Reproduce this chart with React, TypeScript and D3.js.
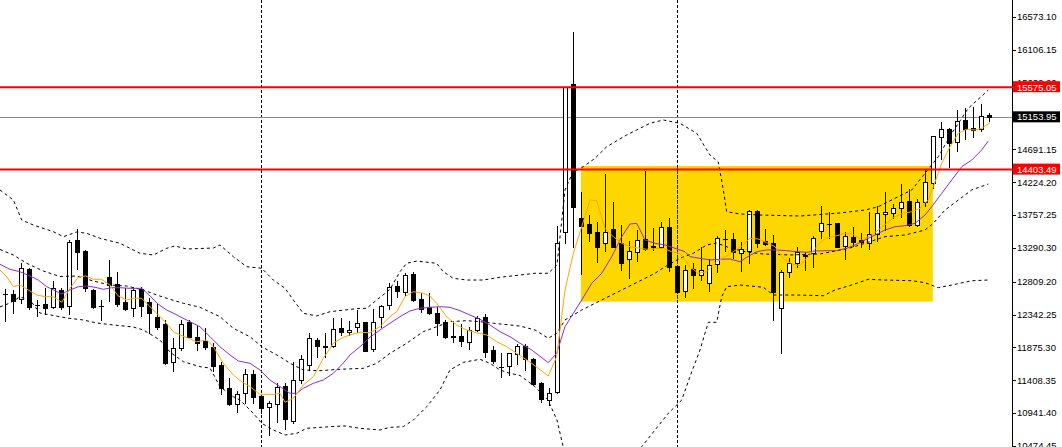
import React from "react";
import * as d3 from "d3";

const W = 1062;
const H = 447;
const AXIS_X = 1012;

// ---- candles (index 0..123) ----
const opens = [
  12640, 12635, 12560, 12991, 12479, 12493, 12455, 12692, 12469, 13403,
  13247, 12692, 12469, 12873, 12773, 12522, 12432, 12702, 12517, 12313,
  12209, 11664, 11872, 12242, 12028, 11972, 11886, 11626, 11295, 11067,
  11224, 11495, 11185, 11025, 11069, 11327, 10834, 11410, 11626, 11981,
  11889, 11900, 12152, 12088, 12170, 12237, 11849, 12313, 12472, 12749,
  12668, 12920, 12560, 12446, 12372, 12233, 12038, 12038, 11957, 12124,
  12304, 11835, 11598, 11612, 11782, 11896, 11709, 11366, 11128, 11238,
  13521, 15621, 13711, 13630, 13517, 13356, 13555, 13356, 13129, 13228,
  13413, 13311, 13308, 13583, 13033, 12682, 12991, 12905, 12796, 13057,
  13414, 13413, 13222, 13247, 13815, 13389, 13356, 12432, 12952, 13072,
  13183, 13214, 13531, 13630, 13647, 13311, 13441, 13403, 13367, 13492,
  13770, 13791, 13854, 13957, 13616, 13939, 14209, 14863, 14977, 14800,
  15109, 14991, 14981, 15180,
];
const highs = [
  12706, 12692, 13080, 13009, 12550, 12721, 12820, 12716, 13403, 13555,
  13261, 12706, 12550, 13119, 12944, 12716, 12739, 12731, 12574, 12503,
  12266, 12006, 12266, 12266, 12180, 12148, 11935, 11673, 11437, 11256,
  11562, 11555, 11200, 11114, 11370, 11374, 11669, 11761, 12081, 12006,
  12081, 12290, 12292, 12252, 12401, 12242, 12418, 12479, 12787, 12813,
  12934, 12948, 12654, 12654, 12455, 12266, 12237, 12209, 12162, 12318,
  12344, 11896, 11797, 11801, 11925, 11925, 11721, 11389, 11295, 13602,
  15582, 16360, 14090, 13758, 13663, 14341, 13947, 13616, 13389, 13552,
  14384, 13569, 13663, 13711, 13048, 13048, 13072, 13308, 13126, 13453,
  13545, 13498, 13370, 13829, 13829, 13555, 13474, 12977, 13143, 13299,
  13237, 13460, 13886, 13805, 13649, 13521, 13583, 13498, 13794, 13891,
  14081, 13915, 14203, 14124, 13986, 14391, 14886, 15085, 14999, 15251,
  15275, 15289, 15336, 15204,
];
const lows = [
  12257, 12369, 12512, 12418, 12327, 12351, 12432, 12418, 12355, 12991,
  12682, 12432, 12266, 12540, 12469, 12408, 12327, 12327, 12077, 12134,
  11640, 11545, 11839, 12020, 11839, 11849, 11545, 11210, 11060, 10962,
  11090, 11086, 10944, 10628, 10809, 10721, 10806, 11377, 11550, 11744,
  11735, 11886, 12053, 12053, 12099, 11825, 11829, 12166, 12422, 12593,
  12621, 12540, 12384, 12348, 12053, 12010, 11946, 11896, 11849, 12114,
  11744, 11654, 11460, 11488, 11640, 11555, 11342, 11107, 11057, 11228,
  13356, 13308, 12920, 13393, 13094, 13251, 13299, 12977, 12859, 13109,
  13261, 13261, 13285, 12967, 12654, 12597, 12725, 12834, 12678, 12952,
  13251, 13151, 12967, 13072, 13308, 13332, 12266, 11792, 12881, 13023,
  12977, 13023, 13436, 13431, 13299, 13129, 13318, 13299, 13275, 13389,
  13545, 13709, 13723, 13602, 13602, 13886, 14138, 14550, 14445, 14673,
  14839, 14863, 14957, 15099,
];
const closes = [
  12630, 12540, 13001, 12455, 12472, 12441, 12716, 12455, 13374, 13237,
  12716, 12455, 12465, 12763, 12493, 12426, 12692, 12469, 12369, 12171,
  11650, 11863, 12205, 12028, 11943, 11877, 11616, 11295, 11067, 11207,
  11495, 11171, 11019, 11082, 11309, 10854, 11413, 11707, 12007, 11899,
  11885, 12135, 12099, 12124, 12219, 11829, 12234, 12465, 12731, 12682,
  12905, 12550, 12418, 12369, 12230, 12028, 12017, 11972, 12124, 12297,
  11815, 11687, 11593, 11792, 11896, 11707, 11360, 11138, 11235, 13356,
  15574, 13876, 13602, 13498, 13308, 13517, 13308, 13072, 13247, 13403,
  13271, 13308, 13583, 13023, 12668, 12976, 12905, 12976, 13048, 13431,
  13411, 13228, 13271, 13815, 13365, 13346, 12668, 12944, 13083, 13228,
  13175, 13427, 13640, 13625, 13308, 13457, 13379, 13379, 13485, 13783,
  13798, 13854, 13939, 13616, 13939, 14223, 14880, 14977, 14786, 15095,
  14977, 14967, 15170, 15154,
];

// ---- indicator lines: [bar index, price] ----
const fastMA: [number, number][] = [
  [-0.67, 12977], [0.17, 12881], [1.0, 12739], [1.83, 12763], [2.87, 12692], [3.92, 12621],
  [4.96, 12597], [6.0, 12597], [7.05, 12517], [8.08, 12716], [9.12, 12873], [10.05, 12891],
  [11.0, 12844], [12.05, 12844], [13.08, 12763], [14.12, 12607], [15.17, 12550], [16.0, 12574],
  [17.05, 12574], [17.87, 12479], [18.92, 12361], [19.96, 12242], [21.0, 12100], [21.83, 12053],
  [22.87, 12006], [23.92, 11957], [25.17, 11981], [26.0, 11886], [27.25, 11650], [28.5, 11484],
  [29.55, 11388], [30.58, 11318], [31.83, 11209], [33.5, 11209], [34.33, 11224], [34.96, 11096],
  [36.0, 11153], [37.25, 11342], [38.5, 11460], [39.75, 11721], [41.0, 11935], [42.25, 12020],
  [43.08, 12053], [44.33, 12091], [45.58, 12085], [46.83, 12171], [48.08, 12313], [48.92, 12384],
  [49.96, 12597], [51.0, 12668], [52.25, 12645], [53.08, 12607], [53.92, 12503], [55.17, 12313],
  [56.42, 12194], [57.67, 12124], [58.92, 12085], [60.17, 12053], [61.42, 11957], [62.67, 11886],
  [63.92, 11792], [65.8, 11650], [67.87, 11470], [68.92, 11744], [69.96, 12692], [71.0, 13214],
  [72.05, 13592], [73.08, 13971], [73.92, 13962], [74.96, 13569], [76.0, 13450], [77.05, 13356],
  [78.08, 13308], [80.17, 13271], [82.25, 13285], [83.3, 13237], [84.33, 13214], [85.58, 13023],
  [86.62, 12929], [87.67, 12952], [88.92, 13094], [89.96, 13166], [91.0, 13237], [92.05, 13318],
  [93.08, 13427], [94.12, 13417], [95.17, 13365], [96.21, 13308], [97.25, 13143], [98.3, 13062],
  [99.33, 13038], [100.37, 13166], [101.42, 13308], [102.46, 13427], [103.5, 13450], [104.96, 13498],
  [106.0, 13484], [107.05, 13403], [108.08, 13460], [109.12, 13545], [110.17, 13640], [111.21, 13734],
  [112.25, 13782], [113.3, 13805], [114.33, 13854], [115.37, 13971], [116.0, 14160], [117.05, 14493],
  [118.08, 14729], [119.12, 14920], [120.17, 14977], [121.2, 14967], [122.05, 14991], [123.08, 15071],
];
const slowMA: [number, number][] = [
  [-0.67, 13057], [0.58, 12986], [1.83, 12952], [3.08, 12891], [4.12, 12834], [5.17, 12739],
  [6.21, 12682], [7.05, 12635], [8.08, 12692], [9.12, 12739], [10.17, 12749], [11.21, 12731],
  [12.25, 12702], [13.3, 12725], [14.33, 12725], [15.58, 12716], [17.05, 12716], [18.08, 12607],
  [19.12, 12489], [20.17, 12408], [21.21, 12351], [21.83, 12313], [23.08, 12242], [24.33, 12170],
  [25.58, 12028], [26.83, 11886], [28.08, 11768], [29.12, 11683], [30.58, 11650], [31.83, 11555],
  [33.08, 11413], [34.33, 11318], [35.58, 11224], [36.42, 11224], [37.25, 11295], [38.5, 11366],
  [39.75, 11413], [41.0, 11508], [42.25, 11654], [43.08, 11768], [44.33, 11886], [45.58, 12020],
  [46.83, 12124], [48.08, 12219], [49.33, 12313], [50.58, 12394], [51.83, 12432], [53.08, 12446],
  [54.33, 12455], [55.58, 12446], [56.83, 12398], [58.08, 12337], [59.33, 12276], [60.58, 12195],
  [61.83, 12100], [63.08, 12028], [64.33, 11935], [65.8, 11839], [67.87, 11659], [68.92, 11792],
  [69.96, 12170], [71.0, 12361], [72.05, 12550], [73.3, 12787], [74.55, 12930], [75.8, 13166],
  [77.05, 13450], [78.08, 13630], [78.92, 13640], [79.96, 13403], [81.21, 13356], [82.46, 13332],
  [83.71, 13285], [84.96, 13237], [85.58, 13166], [86.83, 13143], [88.08, 13119], [89.33, 13129],
  [90.58, 13133], [91.83, 13094], [92.67, 13157], [93.92, 13237], [95.17, 13261], [96.42, 13261],
  [97.67, 13251], [98.92, 13237], [100.17, 13228], [101.42, 13247], [102.67, 13251], [103.92, 13251],
  [105.17, 13285], [106.21, 13332], [107.46, 13403], [108.71, 13474], [109.96, 13545], [111.21, 13592],
  [112.46, 13606], [113.71, 13640], [114.96, 13758], [115.8, 13876], [117.05, 14067], [118.3, 14256],
  [119.55, 14445], [120.8, 14540], [122.05, 14683], [122.87, 14810],
];
const bandUpper: [number, number][] = [
  [-0.67, 14114], [1.0, 13971], [2.05, 13687], [3.5, 13616], [6.0, 13521], [7.25, 13450],
  [8.92, 13517], [10.17, 13498], [11.83, 13427], [14.33, 13356], [16.83, 13214], [18.5, 13190],
  [20.17, 13285], [21.21, 13318], [22.67, 13275], [26.0, 13289], [26.83, 13332], [28.5, 13166],
  [30.17, 13023], [32.05, 13001], [33.5, 12834], [34.96, 12716], [36.0, 12550], [37.25, 12361],
  [38.92, 12323], [40.58, 12384], [42.46, 12408], [44.33, 12432], [45.17, 12432], [46.42, 12550],
  [48.08, 12702], [49.33, 12952], [50.17, 13072], [51.42, 13104], [53.92, 13072], [54.75, 12952],
  [56.0, 12858], [57.67, 12834], [59.75, 12834], [61.83, 12873], [64.33, 12905], [66.21, 12930],
  [67.87, 12930], [68.96, 13048], [69.96, 14114], [70.96, 14370], [72.25, 14445], [73.71, 14564],
  [75.17, 14729], [77.67, 14896], [80.58, 15062], [82.25, 15109], [84.33, 15062], [86.42, 14920],
  [88.08, 14611], [89.12, 14512], [89.75, 14114], [90.17, 13805], [91.83, 13773], [94.33, 13758],
  [99.33, 13744], [104.33, 13787], [107.46, 13829], [109.12, 13876], [111.21, 13996], [113.3, 14114],
  [114.96, 14351], [116.62, 14587], [118.3, 14920], [120.37, 15275], [122.87, 15535],
];
const bandMiddle: [number, number][] = [
  [-0.67, 13268], [1.0, 13190], [2.67, 13072], [4.75, 12962], [6.83, 12884], [8.92, 12891],
  [11.0, 12820], [13.08, 12763], [15.17, 12749], [17.25, 12692], [18.92, 12621], [20.17, 12574],
  [22.25, 12503], [24.33, 12446], [26.83, 12313], [28.5, 12148], [30.58, 12028], [32.05, 11886],
  [34.33, 11744], [35.58, 11650], [37.25, 11555], [39.33, 11545], [41.83, 11565], [44.75, 11579],
  [46.42, 11650], [48.08, 11792], [50.17, 11935], [52.25, 12100], [53.92, 12170], [55.58, 12242],
  [57.67, 12256], [59.33, 12242], [61.0, 12219], [63.08, 12195], [64.33, 12180], [66.21, 12124],
  [67.87, 12006], [68.92, 12077], [69.96, 12266], [72.05, 12408], [74.55, 12550], [77.05, 12692],
  [79.55, 12834], [81.21, 12930], [82.46, 13023], [84.33, 13143], [86.0, 13214], [87.67, 13332],
  [88.92, 13360], [90.58, 13289], [92.67, 13232], [94.75, 13204], [98.08, 13190], [101.83, 13204],
  [105.58, 13289], [107.46, 13356], [109.96, 13450], [112.46, 13474], [114.96, 13545], [116.0, 13640],
  [117.46, 13829], [119.12, 13971], [120.8, 14114], [122.87, 14199],
];
const bandLower: [number, number][] = [
  [-0.67, 12451], [0.58, 12508], [1.83, 12593], [3.08, 12550], [4.33, 12365], [7.67, 12294],
  [9.75, 12266], [11.42, 12223], [13.5, 12195], [16.0, 12166], [17.25, 12124], [18.08, 12067],
  [19.33, 11981], [20.58, 11811], [21.42, 11740], [22.25, 11673], [24.33, 11602], [25.58, 11583],
  [26.83, 11318], [28.5, 11175], [29.33, 11128], [31.0, 10939], [32.05, 10797], [33.5, 10702],
  [34.96, 10631], [36.42, 10655], [37.67, 10726], [40.58, 10749], [42.46, 10759], [44.33, 10726],
  [46.83, 10702], [48.08, 10740], [49.75, 10749], [51.0, 10844], [52.67, 11033], [54.33, 11271],
  [55.58, 11555], [57.25, 11664], [59.33, 11707], [60.58, 11650], [61.83, 11555], [63.08, 11508],
  [64.33, 11477], [66.21, 11318], [67.83, 11128], [68.96, 10844], [69.96, 10346], [70.96, 10062],
  [73.08, 9849], [75.58, 9920], [77.46, 10133], [79.55, 10464], [81.21, 10702], [82.87, 10939],
  [84.55, 11128], [85.58, 11460], [86.83, 11839], [87.87, 12233], [88.92, 12233], [89.55, 12597],
  [90.17, 12739], [91.83, 12763], [94.75, 12731], [96.0, 12621], [98.92, 12621], [102.25, 12611],
  [103.71, 12692], [105.58, 12756], [107.87, 12844], [109.96, 12834], [113.3, 12824], [114.96, 12796],
  [116.62, 12725], [118.3, 12763], [120.8, 12824], [122.87, 12834],
];

// ---- axis ----
const tickValues = [16573.1, 16106.15, 15639.2, 14691.15, 14224.2, 13757.25, 13290.3, 12809.2, 12342.25, 11875.3, 11408.35, 10941.4, 10474.45];
const levelLines = [15575.05, 14403.49];
const currentPrice = 15153.95;
const separatorBars = [32, 84];
const zoneFrom = 72;
const zoneTo = 116;
const zoneTop = 14455;
const zoneBottom = 12526;

const FONT = "'Liberation Sans', Arial, sans-serif";

export default function App() {
  const x = d3.scaleLinear().domain([0, 123]).range([5.33, 989.33]);
  const y = d3.scaleLinear().domain([10474.45, 16573.1]).range([446, 17]);
  const line = d3
    .line<[number, number]>()
    .x((d) => x(d[0]))
    .y((d) => y(d[1]));

  const px = (v: number) => Math.round(v) + 0.5;

  const zx0 = x(zoneFrom) - 0.5;
  const zx1 = x(zoneTo) - 0.5;
  const zy0 = y(zoneTop);
  const zy1 = y(zoneBottom);

  return (
    <svg
      width={W}
      height={H}
      style={{ position: "absolute", left: 0, top: 0, background: "#fff", display: "block" }}
    >
      <defs>
        <clipPath id="plotClip">
          <rect x={0} y={0} width={AXIS_X} height={H} />
        </clipPath>
      </defs>
      <rect x={0} y={0} width={W} height={H} fill="#fff" />
      <g clipPath="url(#plotClip)">
        <rect x={zx0} y={zy0} width={zx1 - zx0} height={zy1 - zy0} fill="#FFD700" />
        {separatorBars.map((b) => {
          const vx = px(x(b));
          const inZone = vx > zx0 && vx < zx1;
          return (
            <g key={b}>
              <line x1={vx} x2={vx} y1={0} y2={H} stroke="#000" strokeWidth={1} strokeDasharray="3,2" />
              {inZone && (
                <line x1={vx} x2={vx} y1={zy0} y2={zy1} stroke="#0028FF" strokeWidth={1} strokeDasharray="3,2" />
              )}
            </g>
          );
        })}
        <line x1={0} x2={AXIS_X} y1={px(y(currentPrice))} y2={px(y(currentPrice))} stroke="#8a8a8a" strokeWidth={1} />
        {opens.map((o, i) => {
          const c = closes[i];
          const h = highs[i];
          const l = lows[i];
          const cx = px(x(i));
          const top = px(y(Math.max(o, c)));
          const bot = px(y(Math.min(o, c)));
          const bull = c >= o;
          return (
            <g key={i}>
              <line x1={cx} x2={cx} y1={Math.round(y(h))} y2={Math.round(y(l)) + 1} stroke="#000" strokeWidth={1} />
              {bot - top < 1 ? (
                <line x1={cx - 2.5} x2={cx + 2.5} y1={top} y2={top} stroke="#000" strokeWidth={1} />
              ) : (
                <rect x={cx - 2} y={top} width={4} height={bot - top} fill={bull ? "#fff" : "#000"} stroke="#000" strokeWidth={1} />
              )}
            </g>
          );
        })}
        {[bandUpper, bandMiddle, bandLower].map((b, k) => (
          <path key={k} d={line(b) || ""} fill="none" stroke="#000" strokeWidth={1} strokeDasharray="3,3" />
        ))}
        <path d={line(slowMA) || ""} fill="none" stroke="#8A2BE2" strokeWidth={1} />
        <path d={line(fastMA) || ""} fill="none" stroke="#FFA500" strokeWidth={1} />
        {levelLines.map((v) => (
          <line key={v} x1={0} x2={AXIS_X} y1={y(v)} y2={y(v)} stroke="#FF0000" strokeWidth={2} />
        ))}
      </g>
      {/* axis */}
      <line x1={AXIS_X + 0.5} x2={AXIS_X + 0.5} y1={0} y2={H} stroke="#000" strokeWidth={1} />
      {tickValues.map((v) => (
        <g key={v}>
          <line x1={AXIS_X} x2={AXIS_X + 4} y1={px(y(v))} y2={px(y(v))} stroke="#000" strokeWidth={1} />
          <text x={AXIS_X + 5} y={y(v)} dy="0.35em" fontFamily={FONT} fontSize={9.5} fill="#000">
            {v.toFixed(2)}
          </text>
        </g>
      ))}
      {levelLines.map((v) => (
        <g key={"lab" + v}>
          <line x1={AXIS_X} x2={AXIS_X + 2} y1={y(v)} y2={y(v)} stroke="#FF0000" strokeWidth={2} />
          <rect x={AXIS_X + 1} y={y(v) - 6} width={W - AXIS_X - 3} height={11} fill="#FF0000" />
          <text x={AXIS_X + 5} y={y(v)} dy="0.35em" fontFamily={FONT} fontSize={9.5} fill="#fff">
            {v.toFixed(2)}
          </text>
        </g>
      ))}
      <g>
        <rect x={AXIS_X + 1} y={y(currentPrice) - 5.5} width={W - AXIS_X - 3} height={11} fill="#000" />
        <text x={AXIS_X + 5} y={y(currentPrice)} dy="0.35em" fontFamily={FONT} fontSize={9.5} fill="#fff">
          {currentPrice.toFixed(2)}
        </text>
      </g>
    </svg>
  );
}
